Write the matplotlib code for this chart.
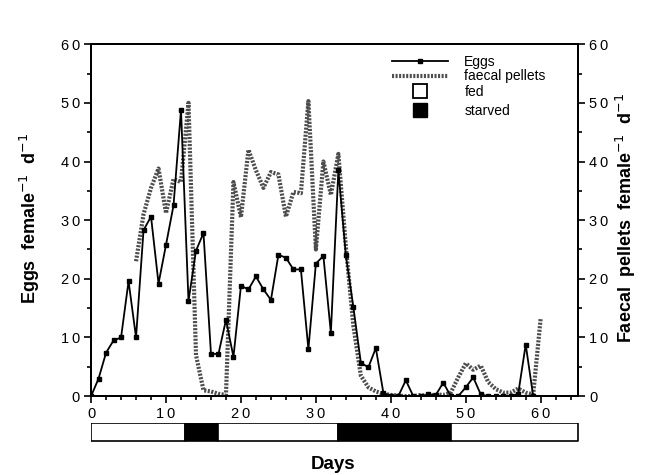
import matplotlib
matplotlib.use('Agg')
import matplotlib.pyplot as plt
from matplotlib.lines import Line2D

plt.rcParams['font.family'] = ['Liberation Sans', 'DejaVu Sans']

# daily egg production (days 0-59)
egg_days = list(range(0, 60))
eggs = [0, 3, 7.4, 9.5, 10, 19.6, 10, 28.3, 30.6, 19.2,
        25.8, 32.5, 48.8, 16.2, 24.8, 27.8, 7.2, 7.2, 13, 6.7,
        18.8, 18.2, 20.4, 18.2, 16.4, 24.1, 23.6, 21.6, 21.6, 8,
        22.6, 23.9, 10.8, 38.5, 24, 15.2, 5.7, 4.9, 8.2, 0.6,
        0, 0, 2.7, 0, 0, 0.3, 0.2, 2.3, 0, 0,
        1.5, 3.2, 0.3, 0, 0, 0, 0, 0.4, 8.8, 0]

# faecal pellet production (days 6-60)
pellet_days = list(range(6, 61))
pellets = [23, 31, 35.5, 38.8, 31.2, 37, 36.5, 50, 7, 1,
           0.8, 0.4, 0.2, 36.5, 30.5, 42, 38.5, 35.5, 38.2, 37.8,
           30.6, 34.8, 34.6, 50.3, 25, 40, 34.3, 41.3, 25.5, 12,
           3.5, 1.5, 0.8, 0.4, 0.2, 0.1, 0, 0, 0.2, 0,
           0.3, 0.2, 0.6, 3.2, 5.6, 4.5, 5.2, 2.4, 1.2, 0.6,
           0.6, 1.3, 0.6, 0.3, 13.3]

# feeding regime along the time axis
regime_start = [0, 12.5, 17, 33, 48]
regime_end = [12.5, 17, 33, 48, 65]
regime = ['fed', 'starved', 'fed', 'starved', 'fed']

pellet_style = dict(color='0.3', lw=3.0, linestyle=(0, (0.5, 0.35)))


def spaced(v):
    return '\u2009'.join(str(v))


fig = plt.figure(figsize=(6.6, 4.75), dpi=100)
ax = fig.add_axes([0.138, 0.166, 0.738, 0.741])
ax2 = ax.twinx()

ax2.plot(pellet_days, pellets, **pellet_style)
ax.plot(egg_days, eggs, color='k', lw=1.3, marker='s', ms=3.2, zorder=5)
ax.set_zorder(ax2.get_zorder() + 1)
ax.patch.set_visible(False)

for a in (ax, ax2):
    a.set_xlim(0, 65)
    a.set_ylim(0, 60)
    a.set_yticks(range(0, 61, 10))
    a.set_yticks(range(0, 61, 5), minor=True)
    a.tick_params(which='major', length=5, width=1.2, labelsize=10.5, pad=3)
    a.tick_params(which='minor', length=3, width=1.2)
    for s in a.spines.values():
        s.set_linewidth(1.4)

ax.set_xticks(range(0, 61, 10))
ax.set_xticks(range(0, 65, 2), minor=True)
ax.set_xticklabels([spaced(v) for v in range(0, 61, 10)])
ax.set_yticklabels([spaced(v) for v in range(0, 61, 10)])
ax2.set_yticklabels([spaced(v) for v in range(0, 61, 10)])

# legend: line series, then the feeding regime swatches
leg_kw = dict(loc='upper left', frameon=False, fontsize=10, numpoints=1,
              handlelength=4.0, handletextpad=1.2, borderaxespad=0,
              borderpad=0)
line_handles = [
    Line2D([], [], color='k', lw=1.3, marker='s', ms=3),
    Line2D([], [], **pellet_style),
]
leg1 = ax.legend(line_handles, ['Eggs', 'faecal pellets'],
                 bbox_to_anchor=(0.618, 0.97), labelspacing=0.05, **leg_kw)
ax.add_artist(leg1)
box_handles = [
    Line2D([], [], ls='none', marker='s', ms=10.5, mfc='white', mec='k', mew=1.3),
    Line2D([], [], ls='none', marker='s', ms=10.5, mfc='k', mec='k'),
]
ax.legend(box_handles, ['fed', 'starved'],
          bbox_to_anchor=(0.618, 0.885), labelspacing=0.4, **leg_kw)

# feeding regime strip
axb = fig.add_axes([0.138, 0.072, 0.738, 0.038])
for s0, s1, r in zip(regime_start, regime_end, regime):
    axb.broken_barh([(s0, s1 - s0)], (0, 1),
                    facecolor='k' if r == 'starved' else 'white',
                    edgecolor='k', lw=1.2)
axb.set_xlim(0, 65)
axb.set_ylim(0, 1)
axb.axis('off')

fig.text(0.045, 0.54, 'Eggs  female$^{-1}$  d$^{-1}$', rotation=90,
         ha='center', va='center', fontsize=13, fontweight='bold')
fig.text(0.948, 0.54, 'Faecal  pellets  female$^{-1}$  d$^{-1}$', rotation=90,
         ha='center', va='center', fontsize=13, fontweight='bold')
fig.text(0.505, 0.022, 'Days', ha='center', va='center',
         fontsize=13.5, fontweight='bold')

fig.savefig('out.png', dpi=100)
